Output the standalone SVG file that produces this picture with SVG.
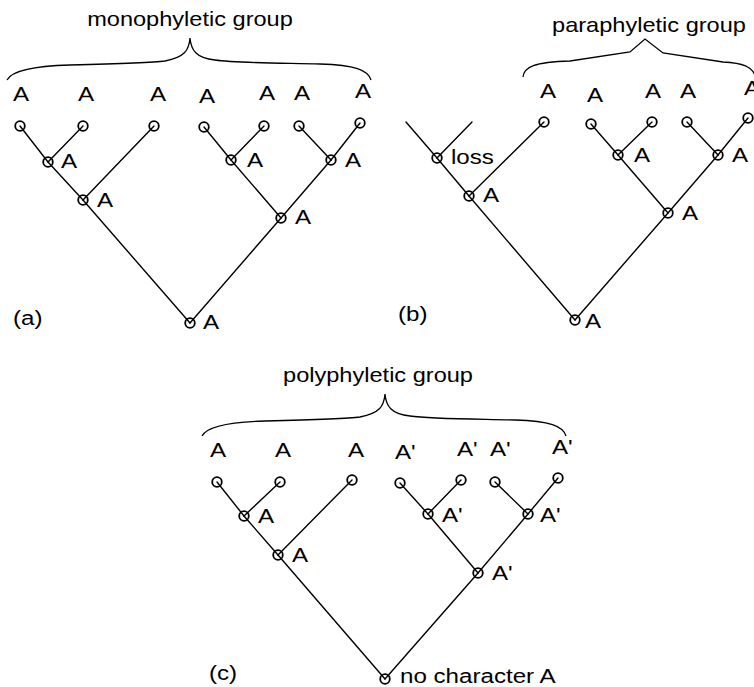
<svg xmlns="http://www.w3.org/2000/svg" width="754" height="687" viewBox="0 0 754 687">
<style>
  .bg { fill: #ffffff; }
  .t { font-family: "Liberation Sans", Arial, sans-serif; font-size: 21px; fill: #000; }
  .ti { font-family: "Liberation Sans", Arial, sans-serif; font-size: 20.5px; fill: #000; text-anchor: middle; }
  .m { text-anchor: middle; }
  .e { stroke: #000; stroke-width: 1.4; fill: none; stroke-linecap: round; }
  .n { stroke: #000; stroke-width: 1.8; fill: none; }
  .br { stroke: #000; stroke-width: 1.3; fill: none; }
</style>
<defs>
  <path id="brace" d="M7,80 C12,70 35,66 70,65 C110,64 150,63 165,61 C185,57 189,50 190,38 C191,50 196,58 215,60 C235,63 280,63 320,64 C355,65 368,70 371,80"/>
</defs>
<rect class="bg" x="0" y="0" width="754" height="687"/>

<!-- connectors -->
<g id="connectors">
  <!-- tree a -->
  <line class="e" x1="20" y1="126" x2="48" y2="162"/>
  <line class="e" x1="83" y1="126" x2="48" y2="162"/>
  <line class="e" x1="48" y1="162" x2="83" y2="200"/>
  <line class="e" x1="154" y1="126" x2="83" y2="200"/>
  <line class="e" x1="83" y1="200" x2="190" y2="323"/>
  <line class="e" x1="204" y1="127" x2="231" y2="160"/>
  <line class="e" x1="264" y1="126" x2="231" y2="160"/>
  <line class="e" x1="231" y1="160" x2="281" y2="218"/>
  <line class="e" x1="299" y1="126" x2="331" y2="160"/>
  <line class="e" x1="360" y1="123" x2="331" y2="160"/>
  <line class="e" x1="331" y1="160" x2="281" y2="218"/>
  <line class="e" x1="281" y1="218" x2="190" y2="323"/>
  <!-- tree b -->
  <line class="e" x1="406" y1="122" x2="437" y2="158"/>
  <line class="e" x1="472" y1="122" x2="437" y2="158"/>
  <line class="e" x1="437" y1="158" x2="469" y2="196"/>
  <line class="e" x1="544" y1="122" x2="469" y2="196"/>
  <line class="e" x1="469" y1="196" x2="575" y2="320"/>
  <line class="e" x1="591" y1="124" x2="618" y2="155"/>
  <line class="e" x1="652" y1="122" x2="618" y2="155"/>
  <line class="e" x1="618" y1="155" x2="668" y2="213"/>
  <line class="e" x1="687" y1="122" x2="718" y2="155"/>
  <line class="e" x1="748" y1="118" x2="718" y2="155"/>
  <line class="e" x1="718" y1="155" x2="668" y2="213"/>
  <line class="e" x1="668" y1="213" x2="575" y2="320"/>
  <!-- tree c -->
  <line class="e" x1="217" y1="482" x2="244" y2="516"/>
  <line class="e" x1="280" y1="482" x2="244" y2="516"/>
  <line class="e" x1="244" y1="516" x2="278" y2="555"/>
  <line class="e" x1="352" y1="480" x2="278" y2="555"/>
  <line class="e" x1="278" y1="555" x2="385" y2="679"/>
  <line class="e" x1="400" y1="483" x2="428" y2="514"/>
  <line class="e" x1="461" y1="480" x2="428" y2="514"/>
  <line class="e" x1="428" y1="514" x2="478" y2="573"/>
  <line class="e" x1="495" y1="482" x2="528" y2="514"/>
  <line class="e" x1="558" y1="478" x2="528" y2="514"/>
  <line class="e" x1="528" y1="514" x2="478" y2="573"/>
  <line class="e" x1="478" y1="573" x2="385" y2="679"/>
</g>

<!-- braces and titles -->
<g id="group-a-title">
  <use href="#brace" class="br"/>
  <text class="ti" transform="translate(190,26) scale(1.15,1)">monophyletic group</text>
</g>
<g id="group-b-title">
  <path class="br" d="M523,77 C524,67 534,62 570,61 L630,52 L645,39 L663,53 L723,62 C742,63 753,66 756,78"/>
  <text class="ti" transform="translate(649,32) scale(1.15,1)">paraphyletic group</text>
</g>
<g id="group-c-title">
  <use href="#brace" class="br" transform="translate(195,356)"/>
  <text class="ti" transform="translate(378,382) scale(1.15,1)">polyphyletic group</text>
</g>

<!-- panel labels -->
<text id="label-a" class="t" transform="translate(13,325) scale(1.15,1)">(a)</text>
<text id="label-b" class="t" transform="translate(398,321) scale(1.15,1)">(b)</text>
<text id="label-c" class="t" transform="translate(209,680) scale(1.15,1)">(c)</text>

<!-- tree a nodes -->
<g id="a-L1"><circle class="n" cx="20" cy="126" r="4.8"/><text class="t m" transform="translate(21,101) scale(1.15,1)">A</text></g>
<g id="a-L2"><circle class="n" cx="83" cy="126" r="4.8"/><text class="t m" transform="translate(86,101) scale(1.15,1)">A</text></g>
<g id="a-L3"><circle class="n" cx="154" cy="126" r="4.8"/><text class="t m" transform="translate(158,101) scale(1.15,1)">A</text></g>
<g id="a-L4"><circle class="n" cx="204" cy="127" r="4.8"/><text class="t m" transform="translate(207,103) scale(1.15,1)">A</text></g>
<g id="a-L5"><circle class="n" cx="264" cy="126" r="4.8"/><text class="t m" transform="translate(267,100) scale(1.15,1)">A</text></g>
<g id="a-L6"><circle class="n" cx="299" cy="126" r="4.8"/><text class="t m" transform="translate(302,100) scale(1.15,1)">A</text></g>
<g id="a-L7"><circle class="n" cx="360" cy="123" r="4.8"/><text class="t m" transform="translate(363,98) scale(1.15,1)">A</text></g>
<g id="a-N1"><circle class="n" cx="48" cy="162" r="4.8"/><text class="t" transform="translate(61,168) scale(1.15,1)">A</text></g>
<g id="a-N2"><circle class="n" cx="83" cy="200" r="4.8"/><text class="t" transform="translate(97,207) scale(1.15,1)">A</text></g>
<g id="a-N3"><circle class="n" cx="231" cy="160" r="4.8"/><text class="t" transform="translate(247,167) scale(1.15,1)">A</text></g>
<g id="a-N4"><circle class="n" cx="331" cy="160" r="4.8"/><text class="t" transform="translate(345,167) scale(1.15,1)">A</text></g>
<g id="a-N5"><circle class="n" cx="281" cy="218" r="4.8"/><text class="t" transform="translate(295,224) scale(1.15,1)">A</text></g>
<g id="a-R"><circle class="n" cx="190" cy="323" r="4.8"/><text class="t" transform="translate(203,329) scale(1.15,1)">A</text></g>

<!-- tree b nodes -->
<g id="b-loss"><circle class="n" cx="437" cy="158" r="4.8"/><text class="t" transform="translate(451,164) scale(1.15,1)">loss</text></g>
<g id="b-N1"><circle class="n" cx="469" cy="196" r="4.8"/><text class="t" transform="translate(483,202) scale(1.15,1)">A</text></g>
<g id="b-L1"><circle class="n" cx="544" cy="122" r="4.8"/><text class="t m" transform="translate(548,98) scale(1.15,1)">A</text></g>
<g id="b-L4"><circle class="n" cx="591" cy="124" r="4.8"/><text class="t m" transform="translate(595,102) scale(1.15,1)">A</text></g>
<g id="b-L5"><circle class="n" cx="652" cy="122" r="4.8"/><text class="t m" transform="translate(653,98) scale(1.15,1)">A</text></g>
<g id="b-L6"><circle class="n" cx="687" cy="122" r="4.8"/><text class="t m" transform="translate(688,98) scale(1.15,1)">A</text></g>
<g id="b-L7"><circle class="n" cx="748" cy="118" r="4.8"/><text class="t m" transform="translate(752,95) scale(1.15,1)">A</text></g>
<g id="b-N3"><circle class="n" cx="618" cy="155" r="4.8"/><text class="t" transform="translate(634,162) scale(1.15,1)">A</text></g>
<g id="b-N4"><circle class="n" cx="718" cy="155" r="4.8"/><text class="t" transform="translate(732,162) scale(1.15,1)">A</text></g>
<g id="b-N5"><circle class="n" cx="668" cy="213" r="4.8"/><text class="t" transform="translate(682,220) scale(1.15,1)">A</text></g>
<g id="b-R"><circle class="n" cx="575" cy="320" r="4.8"/><text class="t" transform="translate(585,328) scale(1.15,1)">A</text></g>

<!-- tree c nodes -->
<g id="c-L1"><circle class="n" cx="217" cy="482" r="4.8"/><text class="t m" transform="translate(218,457) scale(1.15,1)">A</text></g>
<g id="c-L2"><circle class="n" cx="280" cy="482" r="4.8"/><text class="t m" transform="translate(283,457) scale(1.15,1)">A</text></g>
<g id="c-L3"><circle class="n" cx="352" cy="480" r="4.8"/><text class="t m" transform="translate(356,457) scale(1.15,1)">A</text></g>
<g id="c-L4"><circle class="n" cx="400" cy="483" r="4.8"/><text class="t" transform="translate(395,459) scale(1.15,1)">A'</text></g>
<g id="c-L5"><circle class="n" cx="461" cy="480" r="4.8"/><text class="t" transform="translate(457,456) scale(1.15,1)">A'</text></g>
<g id="c-L6"><circle class="n" cx="495" cy="482" r="4.8"/><text class="t" transform="translate(490,456) scale(1.15,1)">A'</text></g>
<g id="c-L7"><circle class="n" cx="558" cy="478" r="4.8"/><text class="t" transform="translate(552,454) scale(1.15,1)">A'</text></g>
<g id="c-N1"><circle class="n" cx="244" cy="516" r="4.8"/><text class="t" transform="translate(258,523) scale(1.15,1)">A</text></g>
<g id="c-N2"><circle class="n" cx="278" cy="555" r="4.8"/><text class="t" transform="translate(292,562) scale(1.15,1)">A</text></g>
<g id="c-N3"><circle class="n" cx="428" cy="514" r="4.8"/><text class="t" transform="translate(442,522) scale(1.15,1)">A'</text></g>
<g id="c-N4"><circle class="n" cx="528" cy="514" r="4.8"/><text class="t" transform="translate(540,522) scale(1.15,1)">A'</text></g>
<g id="c-N5"><circle class="n" cx="478" cy="573" r="4.8"/><text class="t" transform="translate(492,580) scale(1.15,1)">A'</text></g>
<g id="c-R"><circle class="n" cx="385" cy="679" r="4.8"/><text class="t" transform="translate(400,683) scale(1.15,1)">no character A</text></g>
</svg>
